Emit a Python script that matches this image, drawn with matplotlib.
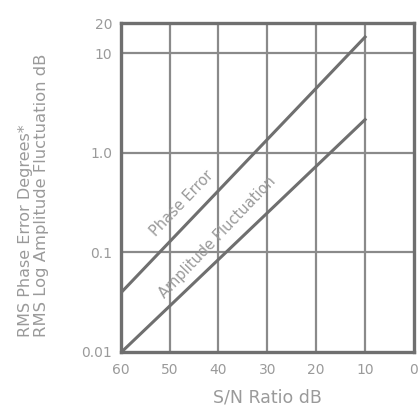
import numpy as np
import matplotlib
matplotlib.use('Agg')
import matplotlib.pyplot as plt

# values
snr_ticks = [60, 50, 40, 30, 20, 10, 0]
y_ticks = [0.01, 0.1, 1.0, 10, 20]
y_tick_labels = ['0.01', '0.1', '1.0', '10', '20']
y_grid = [0.1, 1.0, 10]

phase_snr = [60, 10]
phase_err = [0.039, 14.5]

amp_snr = [60, 10]
amp_fluct = [0.0098, 2.15]

line_c = '#6f6f6f'
grid_c = '#8a8a8a'
text_c = '#9a9a9a'

fig = plt.figure(figsize=(4.19, 4.05), dpi=100)
ax = fig.add_axes([0.288, 0.131, 0.700, 0.812])
ax.set_yscale('log')
ax.set_xlim(60, 0)
ax.set_ylim(0.01, 20)

for x in snr_ticks[1:-1]:
    ax.axvline(x, color=grid_c, lw=1.6, zorder=1)
for y in y_grid:
    ax.axhline(y, color=grid_c, lw=1.6, zorder=1)

ax.plot(phase_snr, phase_err, color=line_c, lw=2.2, zorder=3)
ax.plot(amp_snr, amp_fluct, color=line_c, lw=2.2, zorder=3)

for s in ax.spines.values():
    s.set_color(line_c)
    s.set_linewidth(2.4)

ax.set_xticks(snr_ticks)
ax.set_xticklabels([str(v) for v in snr_ticks])
ax.set_yticks(y_ticks)
ax.set_yticklabels(y_tick_labels)
ax.minorticks_off()
ax.tick_params(length=0, labelsize=10, labelcolor=text_c)
ax.tick_params(axis='x', pad=8)
ax.tick_params(axis='y', pad=6)

ax.set_xlabel('S/N Ratio dB', fontsize=12.5, color=text_c, labelpad=8)
fig.text(0.060, 0.168, 'RMS Phase Error Degrees*', rotation=90, fontsize=11.5,
         color=text_c, ha='center', va='bottom')
fig.text(0.100, 0.168, 'RMS Log Amplitude Fluctuation dB', rotation=90, fontsize=11.8,
         color=text_c, ha='center', va='bottom')

# rotate labels to follow the lines on screen
fig.canvas.draw()
p0 = ax.transData.transform((phase_snr[0], phase_err[0]))
p1 = ax.transData.transform((phase_snr[1], phase_err[1]))
ang = np.degrees(np.arctan2(p1[1] - p0[1], p1[0] - p0[0]))

ax.text(47.5, 0.31, 'Phase Error', rotation=ang, rotation_mode='anchor',
        fontsize=10.5, color=text_c, ha='center', va='center', zorder=4)
ax.text(40.3, 0.14, 'Amplitude Fluctuation', rotation=ang, rotation_mode='anchor',
        fontsize=10.5, color=text_c, ha='center', va='center', zorder=4)

plt.savefig('out.png', dpi=100)
plt.close()
